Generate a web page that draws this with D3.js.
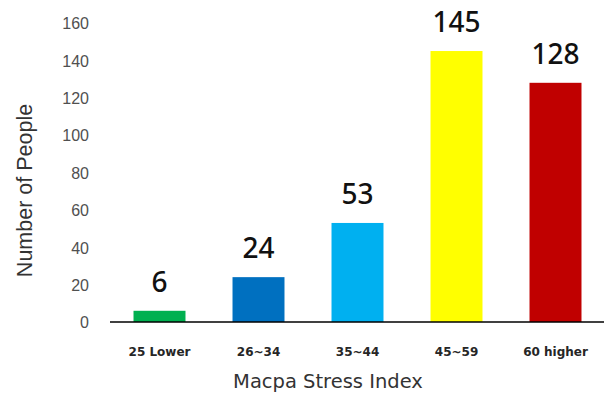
<!DOCTYPE html>
<html><head><meta charset="utf-8">
<script src="https://cdn.jsdelivr.net/npm/d3@7"></script>
<style>body{margin:0;background:#fff}svg{display:block}</style>
</head><body>
<svg id="c" width="604" height="394"></svg>
<script>
const categories = ["25 Lower", "26~34", "35~44", "45~59", "60 higher"];
const values = [6, 24, 53, 145, 128];
const colors = ["#00b050", "#0070c0", "#00b0f0", "#ffff00", "#c00000"];
const yTicks = [0, 20, 40, 60, 80, 100, 120, 140, 160];

const svg = d3.select("#c");
const x = d3.scaleBand().domain(categories).range([110, 605]).paddingInner(0.475).paddingOuter(0.2375);
const y = d3.scaleLinear().domain([0, 160]).range([322, 23]);

// y tick labels
const yAxis = d3.axisLeft(y).tickValues(yTicks).tickSize(0).tickPadding(0);
const gy = svg.append("g").attr("transform", "translate(89,0)").call(yAxis);
gy.select(".domain").remove();
gy.selectAll("text").attr("font-family", "'Liberation Sans', Arial, sans-serif").attr("font-size", 16).attr("fill", "#505050").attr("dy", "0.36em");

// bars
svg.selectAll("rect.bar").data(values).join("rect").attr("class", "bar")
  .attr("x", (d, i) => x(categories[i])).attr("width", x.bandwidth())
  .attr("y", d => y(d)).attr("height", d => y(0) - y(d))
  .attr("fill", (d, i) => colors[i]);

// value labels
svg.selectAll("text.val").data(values).join("text").attr("class", "val")
  .attr("x", (d, i) => x(categories[i]) + x.bandwidth() / 2)
  .attr("y", d => y(d) - 19)
  .attr("text-anchor", "middle").attr("font-family", "'Noto Sans', sans-serif").attr("font-size", 28)
  .attr("font-weight", 500).attr("fill", "#111").text(d => d);

// x axis
const xAxis = d3.axisBottom(x).tickSize(0).tickPadding(0);
const gx = svg.append("g").attr("transform", "translate(0,322)").call(xAxis);
gx.select(".domain").attr("stroke", "#000").attr("stroke-width", 1.5).attr("d", "M110,0H604");
gx.selectAll("text").attr("font-family", "'DejaVu Sans', sans-serif").attr("font-size", 12)
  .attr("font-weight", "bold").attr("fill", "#262626").attr("dy", 34);

// axis titles
svg.append("text").attr("x", 328).attr("y", 388).attr("text-anchor", "middle")
  .attr("font-family", "'DejaVu Sans', sans-serif").attr("font-size", 19.5).attr("fill", "#333").text("Macpa Stress Index");
svg.append("text").attr("transform", "translate(32,190.5) rotate(-90)").attr("text-anchor", "middle")
  .attr("font-family", "'Liberation Sans', Arial, sans-serif").attr("font-size", 21.5)
  .attr("fill", "#333").text("Number of People");
</script>
</body></html>
